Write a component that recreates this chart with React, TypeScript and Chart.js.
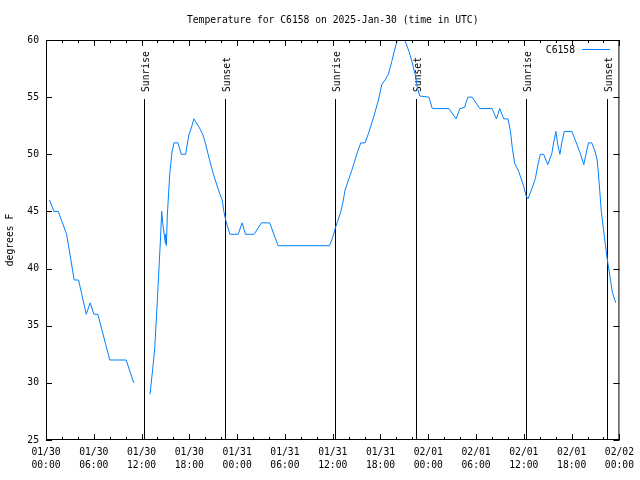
import React, { useEffect, useRef } from "react";
import { Chart, registerables } from "chart.js";

Chart.register(...registerables);

const titleText = "Temperature for C6158 on 2025-Jan-30 (time in UTC)";
const seriesName = "C6158";
const yAxisTitle = "degrees F";

// hours since 2025-01-30 00:00 UTC
const hours = [
  0.44, 1.0, 1.54, 2.59, 3.54, 4.09, 5.05, 5.55, 6.01, 6.51, 8.01, 10.06, 11.02,
  12.0,
  13.06, 13.44, 13.65, 13.99, 14.36, 14.53, 14.65, 14.99, 15.03, 15.11, 15.24, 15.53, 15.82,
  16.07, 16.57, 16.99, 17.53, 17.94, 18.24, 18.57, 19.28, 19.7, 20.0, 20.32, 21.04, 21.79,
  22.13, 22.33, 22.58, 23.08, 24.13, 24.63, 25.04, 26.13, 27.05, 28.09, 29.14, 35.6, 36.03,
  36.35, 36.6, 37.03, 37.31, 37.56, 38.4, 39.11, 39.53, 40.07, 40.48, 41.2, 41.74, 42.16,
  42.57, 42.99, 43.41, 43.83, 44.52, 45.58, 45.99, 46.42, 46.62, 46.92, 48.08, 48.5, 50.59,
  51.5, 51.97, 52.55, 52.97, 53.51, 54.47, 56.01, 56.56, 56.97, 57.47, 58.01, 58.32, 58.56,
  58.85, 59.35, 59.98, 60.27, 60.52, 61.02, 61.45, 61.77, 62.07, 62.48, 63.02, 63.52, 63.74,
  64.02, 64.27, 64.53, 64.78, 65.08, 66.03, 66.53, 67.08, 67.53, 67.91, 68.12, 68.53, 68.96,
  69.21, 69.46, 69.71, 70.0, 70.29, 70.54, 70.84, 71.12, 71.54,
];

const tempF: (number | null)[] = [
  46, 45, 45, 43, 39, 39, 36, 37, 36, 36, 32, 32, 30,
  null,
  29, 31.5, 33, 37.3, 42.4, 45, 44, 42.2, 43, 42, 44.7, 48.2, 50.2,
  51, 51, 50, 50, 51.7, 52.3, 53.1, 52.3, 51.7, 51, 50.1, 48.2, 46.6,
  46, 45, 44.2, 43, 43, 44, 43, 43, 44, 44, 42, 42, 42.8,
  43.6, 44.1, 45, 45.9, 46.9, 48.6, 50.2, 51, 51, 51.8, 53.4, 54.75, 56.1,
  56.5, 57, 58.1, 59.3, 61, 59, 58, 56.8, 55.9, 55.1, 55, 54, 54,
  53.1, 54, 54.1, 55, 55, 54, 54, 53.1, 54, 53.1, 53.1, 52, 50.5,
  49.2, 48.5, 47.2, 46.4, 46.1, 47, 47.9, 49.1, 50, 50, 49.1, 50.1, 51,
  52, 50.8, 50, 51.1, 52, 52, 51.1, 50.1, 49.1, 50.4, 51, 51, 50.2,
  49.5, 47.5, 45.1, 43.4, 41.8, 40.5, 39.2, 37.9, 37,
];

const sunHours = [12.27, 22.5, 36.28, 46.49, 60.27, 70.5];
const sunLabels = ["Sunrise", "Sunset", "Sunrise", "Sunset", "Sunrise", "Sunset"];

const dateLabels = [
  "01/30", "01/30", "01/30", "01/30", "01/31", "01/31", "01/31", "01/31",
  "02/01", "02/01", "02/01", "02/01", "02/02",
];
const timeLabels = [
  "00:00", "06:00", "12:00", "18:00", "00:00", "06:00", "12:00", "18:00",
  "00:00", "06:00", "12:00", "18:00", "00:00",
];

const FONT = "9.7px 'DejaVu Sans Mono'";
const LINE_COLOR = "rgb(0,128,255)";

const overlay = {
  id: "gnuplotOverlay",
  beforeDatasetsDraw(chart: any) {
    const { ctx, chartArea, scales } = chart;
    const xs = scales.x;
    ctx.save();
    ctx.strokeStyle = "#000";
    ctx.lineWidth = 1;
    ctx.fillStyle = "#000";
    ctx.font = FONT;
    sunHours.forEach((h, i) => {
      const px = Math.round(xs.getPixelForValue(h)) + 0.5;
      ctx.beginPath();
      ctx.moveTo(px, 99);
      ctx.lineTo(px, chartArea.bottom);
      ctx.stroke();
      ctx.save();
      ctx.translate(px + 1.5, 92);
      ctx.rotate(-Math.PI / 2);
      ctx.textAlign = "left";
      ctx.textBaseline = "middle";
      ctx.fillText(sunLabels[i], 0, 0);
      ctx.restore();
    });
    ctx.restore();
  },
  afterDraw(chart: any) {
    const { ctx, chartArea, scales } = chart;
    const { left, right, top, bottom } = chartArea;
    const xs = scales.x;
    const ys = scales.y;
    ctx.save();
    ctx.strokeStyle = "#000";
    ctx.lineWidth = 1;
    // frame
    ctx.strokeRect(left + 0.5, top + 0.5, right - left - 1, bottom - top - 1);
    // x ticks (every 2 h, major every 6 h)
    ctx.beginPath();
    for (let h = 0; h <= 72; h += 2) {
      const px = Math.round(xs.getPixelForValue(h)) + 0.5;
      const len = h % 6 === 0 ? 6 : 3;
      ctx.moveTo(px, bottom);
      ctx.lineTo(px, bottom - len);
      ctx.moveTo(px, top);
      ctx.lineTo(px, top + len);
    }
    // y ticks
    for (let v = 25; v <= 60; v += 5) {
      const py = Math.round(ys.getPixelForValue(v)) + 0.5;
      ctx.moveTo(left, py);
      ctx.lineTo(left + 6, py);
      ctx.moveTo(right, py);
      ctx.lineTo(right - 6, py);
    }
    ctx.stroke();

    ctx.fillStyle = "#000";
    ctx.font = FONT;
    // title
    ctx.textAlign = "center";
    ctx.textBaseline = "middle";
    ctx.fillText(titleText, (left + right) / 2, 20);
    // y axis title
    ctx.save();
    ctx.translate(10, (top + bottom) / 2);
    ctx.rotate(-Math.PI / 2);
    ctx.textAlign = "center";
    ctx.textBaseline = "middle";
    ctx.fillText(yAxisTitle, 0, 0);
    ctx.restore();
    // legend
    ctx.textAlign = "right";
    ctx.textBaseline = "middle";
    ctx.fillText(seriesName, 575, 50);
    ctx.strokeStyle = LINE_COLOR;
    ctx.beginPath();
    ctx.moveTo(582, 49.5);
    ctx.lineTo(610, 49.5);
    ctx.stroke();
    ctx.restore();
  },
};

export default function App() {
  const ref = useRef<HTMLCanvasElement | null>(null);
  useEffect(() => {
    if (!ref.current) return;
    const points = hours.map((h, i) => ({ x: h, y: tempF[i] }));
    const chart = new Chart(ref.current, {
      type: "line",
      data: {
        datasets: [
          {
            label: seriesName,
            data: points as any,
            borderColor: LINE_COLOR,
            borderWidth: 1,
            pointRadius: 0,
            tension: 0,
            spanGaps: false,
            fill: false,
          },
        ],
      },
      options: {
        animation: false,
        responsive: false,
        maintainAspectRatio: false,
        events: [],
        layout: { padding: { left: 0, right: 19, top: 40, bottom: 0 } },
        plugins: {
          legend: { display: false },
          title: { display: false },
          tooltip: { enabled: false },
        },
        scales: {
          x: {
            type: "linear",
            min: 0,
            max: 72,
            grid: { display: false, drawTicks: false },
            border: { display: false },
            afterFit: (s: any) => {
              s.height = 40;
            },
            ticks: {
              stepSize: 6,
              autoSkip: false,
              maxRotation: 0,
              minRotation: 0,
              padding: 6,
              color: "#000",
              font: { family: "'DejaVu Sans Mono'", size: 9.7, lineHeight: 1.35 },
              callback: (v: any) => {
                const i = Math.round(Number(v) / 6);
                return [dateLabels[i], timeLabels[i]];
              },
            },
          },
          y: {
            type: "linear",
            min: 25,
            max: 60,
            grid: { display: false, drawTicks: false },
            border: { display: false },
            afterFit: (s: any) => {
              s.width = 46;
            },
            ticks: {
              stepSize: 5,
              padding: 7,
              color: "#000",
              font: { family: "'DejaVu Sans Mono'", size: 9.7 },
            },
          },
        },
      },
      plugins: [overlay],
    });
    return () => chart.destroy();
  }, []);
  return (
    <div style={{ position: "fixed", left: 0, top: 0, width: 640, height: 480, background: "#fff" }}>
      <canvas ref={ref} width={640} height={480} style={{ width: 640, height: 480, display: "block" }} />
    </div>
  );
}
